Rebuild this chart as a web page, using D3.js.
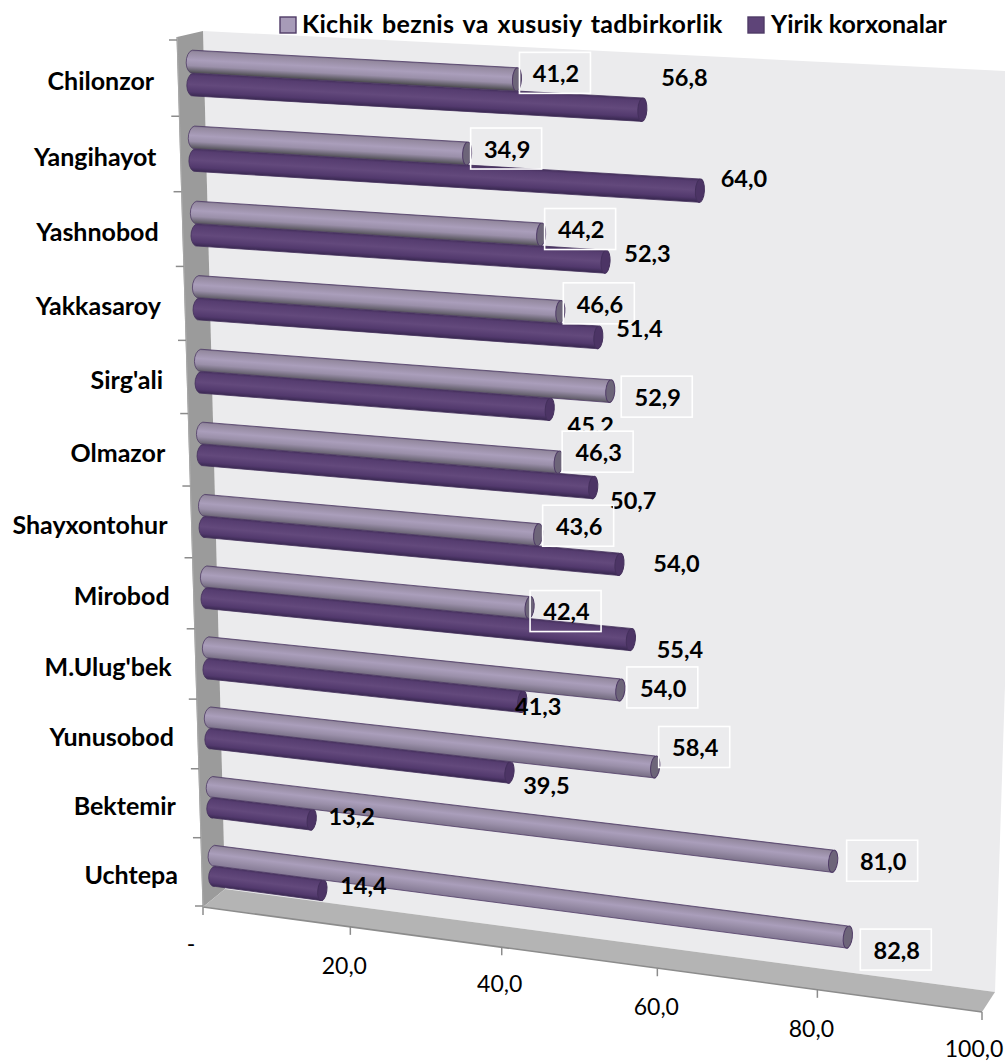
<!DOCTYPE html>
<html><head><meta charset="utf-8">
<script src="https://cdn.jsdelivr.net/npm/d3@7"></script>
<style>html,body{margin:0;padding:0;background:#fff;overflow:hidden}svg{display:block}text{font-family:Lato,"Open Sans",sans-serif;fill:#000}</style>
</head><body><svg id="c" width="1005" height="1062"></svg>
<script>
// ---- data ----
const categories = ["Chilonzor","Yangihayot","Yashnobod","Yakkasaroy","Sirg'ali","Olmazor","Shayxontohur","Mirobod","M.Ulug'bek","Yunusobod","Bektemir","Uchtepa"];
const seriesNames = ["Kichik beznis va xususiy tadbirkorlik","Yirik korxonalar"];
const smallBusiness = [41.2,34.9,44.2,46.6,52.9,46.3,43.6,42.4,54.0,58.4,81.0,82.8];
const largeEnterprise = [56.8,64.0,52.3,51.4,45.2,50.7,54.0,55.4,41.3,39.5,13.2,14.4];
const valueTicks = [0,20,40,60,80,100];
const valueTickLabels = ["-","20,0","40,0","60,0","80,0","100,0"];
// ---- layout: label nudges from the bar end, the reference places them by hand ----
const smallNudgeX = [38,39,39,38.5,46.5,39,40,36,42,39,49,48];
const smallNudgeY = [-6.5,-5,-5.5,-8.5,5.5,-10.5,-9,3.5,-2.5,-20,-0.5,12.5];
const largeNudgeX = [42,44,42,41,41,40,57,49,16,37,40,41];
const largeNudgeY = [-32,-12,-8,-9,17,13,-1,10,5,13,-3,-4];
const tickNudgeX = [-12,-6,-2,-1,-6,-8];
const tickNudgeY = [37,39,37,39,39,37];
const filledBoxes = ["Olmazor"];
// ---- perspective helpers ----
const foreshorten=(a)=>t=>t*a/(1+(a-1)*t);
const lerp=(a,b,t)=>a+(b-a)*t;
const barT=foreshorten(0.96), leftRow=foreshorten(1.06), rightRow=foreshorten(1.03);
function barPlane(t,u){
  const wl=leftRow(u), wr=rightRow(u), k=barT(t);
  const L=[lerp(192,216,wl),lerp(35,900,wl)], R=[lerp(1000,985,wr)-20*wr*(1-wr),lerp(78,1003.5,wr)];
  return [lerp(L[0],R[0],k),lerp(L[1],R[1],k)];
}
const x = d3.scaleLinear().domain([0,100]).range([0,1]);
const rowBand = d3.scaleBand().domain(categories).range([0,1]);
const serBand = d3.scaleBand().domain(seriesNames).range([0,rowBand.bandwidth()]).paddingInner(0).paddingOuter(0.66);
// front edges
const axisWarp=foreshorten(0.933), rowWarp=foreshorten(1.062);
const axisPt=v=>{const t=axisWarp(x(v));return [203+(982-203)*t,907+(1012-907)*t];};
const rowEdge=u=>{const t=rowWarp(u);return [177+(203-177)*t,40+(906-40)*t];};

const svg=d3.select("#c");
const defs=svg.append("defs");
const poly=p=>"M"+p.map(q=>q.map(n=>n.toFixed(2)).join(",")).join("L")+"Z";
// walls
svg.append("path").attr("d",poly([[203,31],[1025,72],[995,992],[225,889]])).attr("fill","#ebebed");
svg.append("path").attr("d",poly([[177,37],[203,31],[225,889],[203,907]])).attr("fill","#9b9b9b");
svg.append("path").attr("d",poly([[203,907],[225,889],[995,992],[982,1012]])).attr("fill","#b4b4b4");
svg.append("path").attr("d",poly([[203,907],[982,1012]])).attr("stroke","#8c8c8c").attr("stroke-width",1.5).attr("fill","none");
svg.append("path").attr("d",poly([[177,37],[203,907]])).attr("stroke","#a8a8a8").attr("stroke-width",1).attr("fill","none");
// ticks
d3.range(0,13).forEach(i=>{const [a,b]=rowEdge(i/12);
  svg.append("line").attr("x1",a-8).attr("x2",a).attr("y1",b).attr("y2",b).attr("stroke","#8c8c8c").attr("stroke-width",1.5);});
valueTicks.forEach((v,i)=>{const [a,b]=axisPt(v);
  svg.append("line").attr("x1",a).attr("x2",a).attr("y1",b).attr("y2",b+8).attr("stroke","#8c8c8c").attr("stroke-width",1.5);
  svg.append("text").attr("x",a+tickNudgeX[i]).attr("y",b+tickNudgeY[i]).attr("dy","0.35em").attr("text-anchor","middle")
    .attr("font-size",23).text(valueTickLabels[i]);});
// category labels
categories.forEach((c,i)=>{const u=rowBand(c)+rowBand.bandwidth()/2;const [a,b]=rowEdge(u);
  svg.append("text").attr("x",a-24).attr("y",b+3).attr("dy","0.35em").attr("text-anchor","end")
    .attr("font-size",25).attr("font-weight",700).text(c);});
// bars
const shade=d3.scaleLinear().domain([0,11]).range(["#4a4a4d","#857a95"]);
function bar(g,cat,ser,val,key,ri){
  const top0=rowBand(cat)+serBand(ser), bot0=top0+serBand.bandwidth();
  const t0=barPlane(x(0),top0),b0=barPlane(x(0),bot0),t1=barPlane(x(val),top0),b1=barPlane(x(val),bot0);
  const ang=Math.atan2(t1[1]-t0[1],t1[0]-t0[0]);const deg=ang*180/Math.PI;
  const ry=Math.hypot(b0[0]-t0[0],b0[1]-t0[1])/2, ry1=Math.hypot(b1[0]-t1[0],b1[1]-t1[1])/2;
  const id="g"+key+ri;
  const gr=defs.append("linearGradient").attr("id",id).attr("gradientUnits","userSpaceOnUse")
    .attr("x1",t0[0]).attr("y1",t0[1]).attr("x2",t0[0]-Math.sin(ang)*2*ry).attr("y2",t0[1]+Math.cos(ang)*2*ry);
  const stops = key==="s"
   ? [[0,"#766b88"],[.07,"#94899f"],[.42,"#aa9ebb"],[.68,"#9a8fa9"],[1,shade(ri)]]
   : [[0,"#46315e"],[.12,"#563d70"],[.5,"#63497c"],[.82,"#52396d"],[1,"#3a2952"]];
  stops.forEach(s=>gr.append("stop").attr("offset",s[0]).attr("stop-color",s[1]));
  const rxLeft=6.5, rx=4.5;
  const d=`M${t1[0]},${t1[1]}L${t0[0]},${t0[1]}A${rxLeft},${ry} ${deg} 0 0 ${b0[0]},${b0[1]}L${b1[0]},${b1[1]}Z`;
  g.append("path").attr("d",d).attr("fill",`url(#${id})`).attr("stroke",key==="s"?"#4f3b66":"#44305c").attr("stroke-width",0.8);
  g.append("ellipse").attr("cx",0).attr("cy",0).attr("rx",rx).attr("ry",ry1)
    .attr("transform",`translate(${(t1[0]+b1[0])/2},${(t1[1]+b1[1])/2}) rotate(${deg})`)
    .attr("fill",key==="s"?"#6d6579":"#4c3465").attr("stroke",key==="s"?"#4f3b66":"#44305c").attr("stroke-width",1);
  return [(t1[0]+b1[0])/2,(t1[1]+b1[1])/2];
}
const barG=svg.append("g");
const smallEnds=[],largeEnds=[];
categories.forEach((c,i)=>{largeEnds[i]=bar(barG,c,seriesNames[1],largeEnterprise[i],"l",i);
  smallEnds[i]=bar(barG,c,seriesNames[0],smallBusiness[i],"s",i);});
// value labels
const fmt=v=>v.toFixed(1).replace(".",",");
categories.forEach((c,i)=>{
  const cx=smallEnds[i][0]+smallNudgeX[i], cy=smallEnds[i][1]+smallNudgeY[i];
  svg.append("rect").attr("x",cx-35.5).attr("y",cy-20.5).attr("width",71).attr("height",41)
    .attr("fill",filledBoxes.includes(c)?"#ebebed":"none").attr("stroke","#fff").attr("stroke-width",1.6);
  svg.append("text").attr("x",cx+1).attr("y",cy+1).attr("dy","0.35em").attr("text-anchor","middle")
    .attr("font-size",23.5).attr("font-weight",700).text(fmt(smallBusiness[i]));
  svg.append("text").attr("x",largeEnds[i][0]+largeNudgeX[i]).attr("y",largeEnds[i][1]+largeNudgeY[i]).attr("dy","0.35em")
    .attr("text-anchor","middle").attr("font-size",23.5).attr("font-weight",700).text(fmt(largeEnterprise[i]));
});
// legend
[[280,"#a79bb8",seriesNames[0],302,.3,2.5],[748,"#5e4478",seriesNames[1],771,0,0]].forEach(l=>{
  svg.append("rect").attr("x",l[0]).attr("y",17).attr("width",16).attr("height",16).attr("fill",l[1]).attr("stroke","#4f3b66").attr("stroke-width",1.4);
  svg.append("text").attr("x",l[3]).attr("y",33).attr("font-size",25).attr("font-weight",700)
    .attr("letter-spacing",l[4]).attr("word-spacing",l[5]).text(l[2]);
});
</script></body></html>
